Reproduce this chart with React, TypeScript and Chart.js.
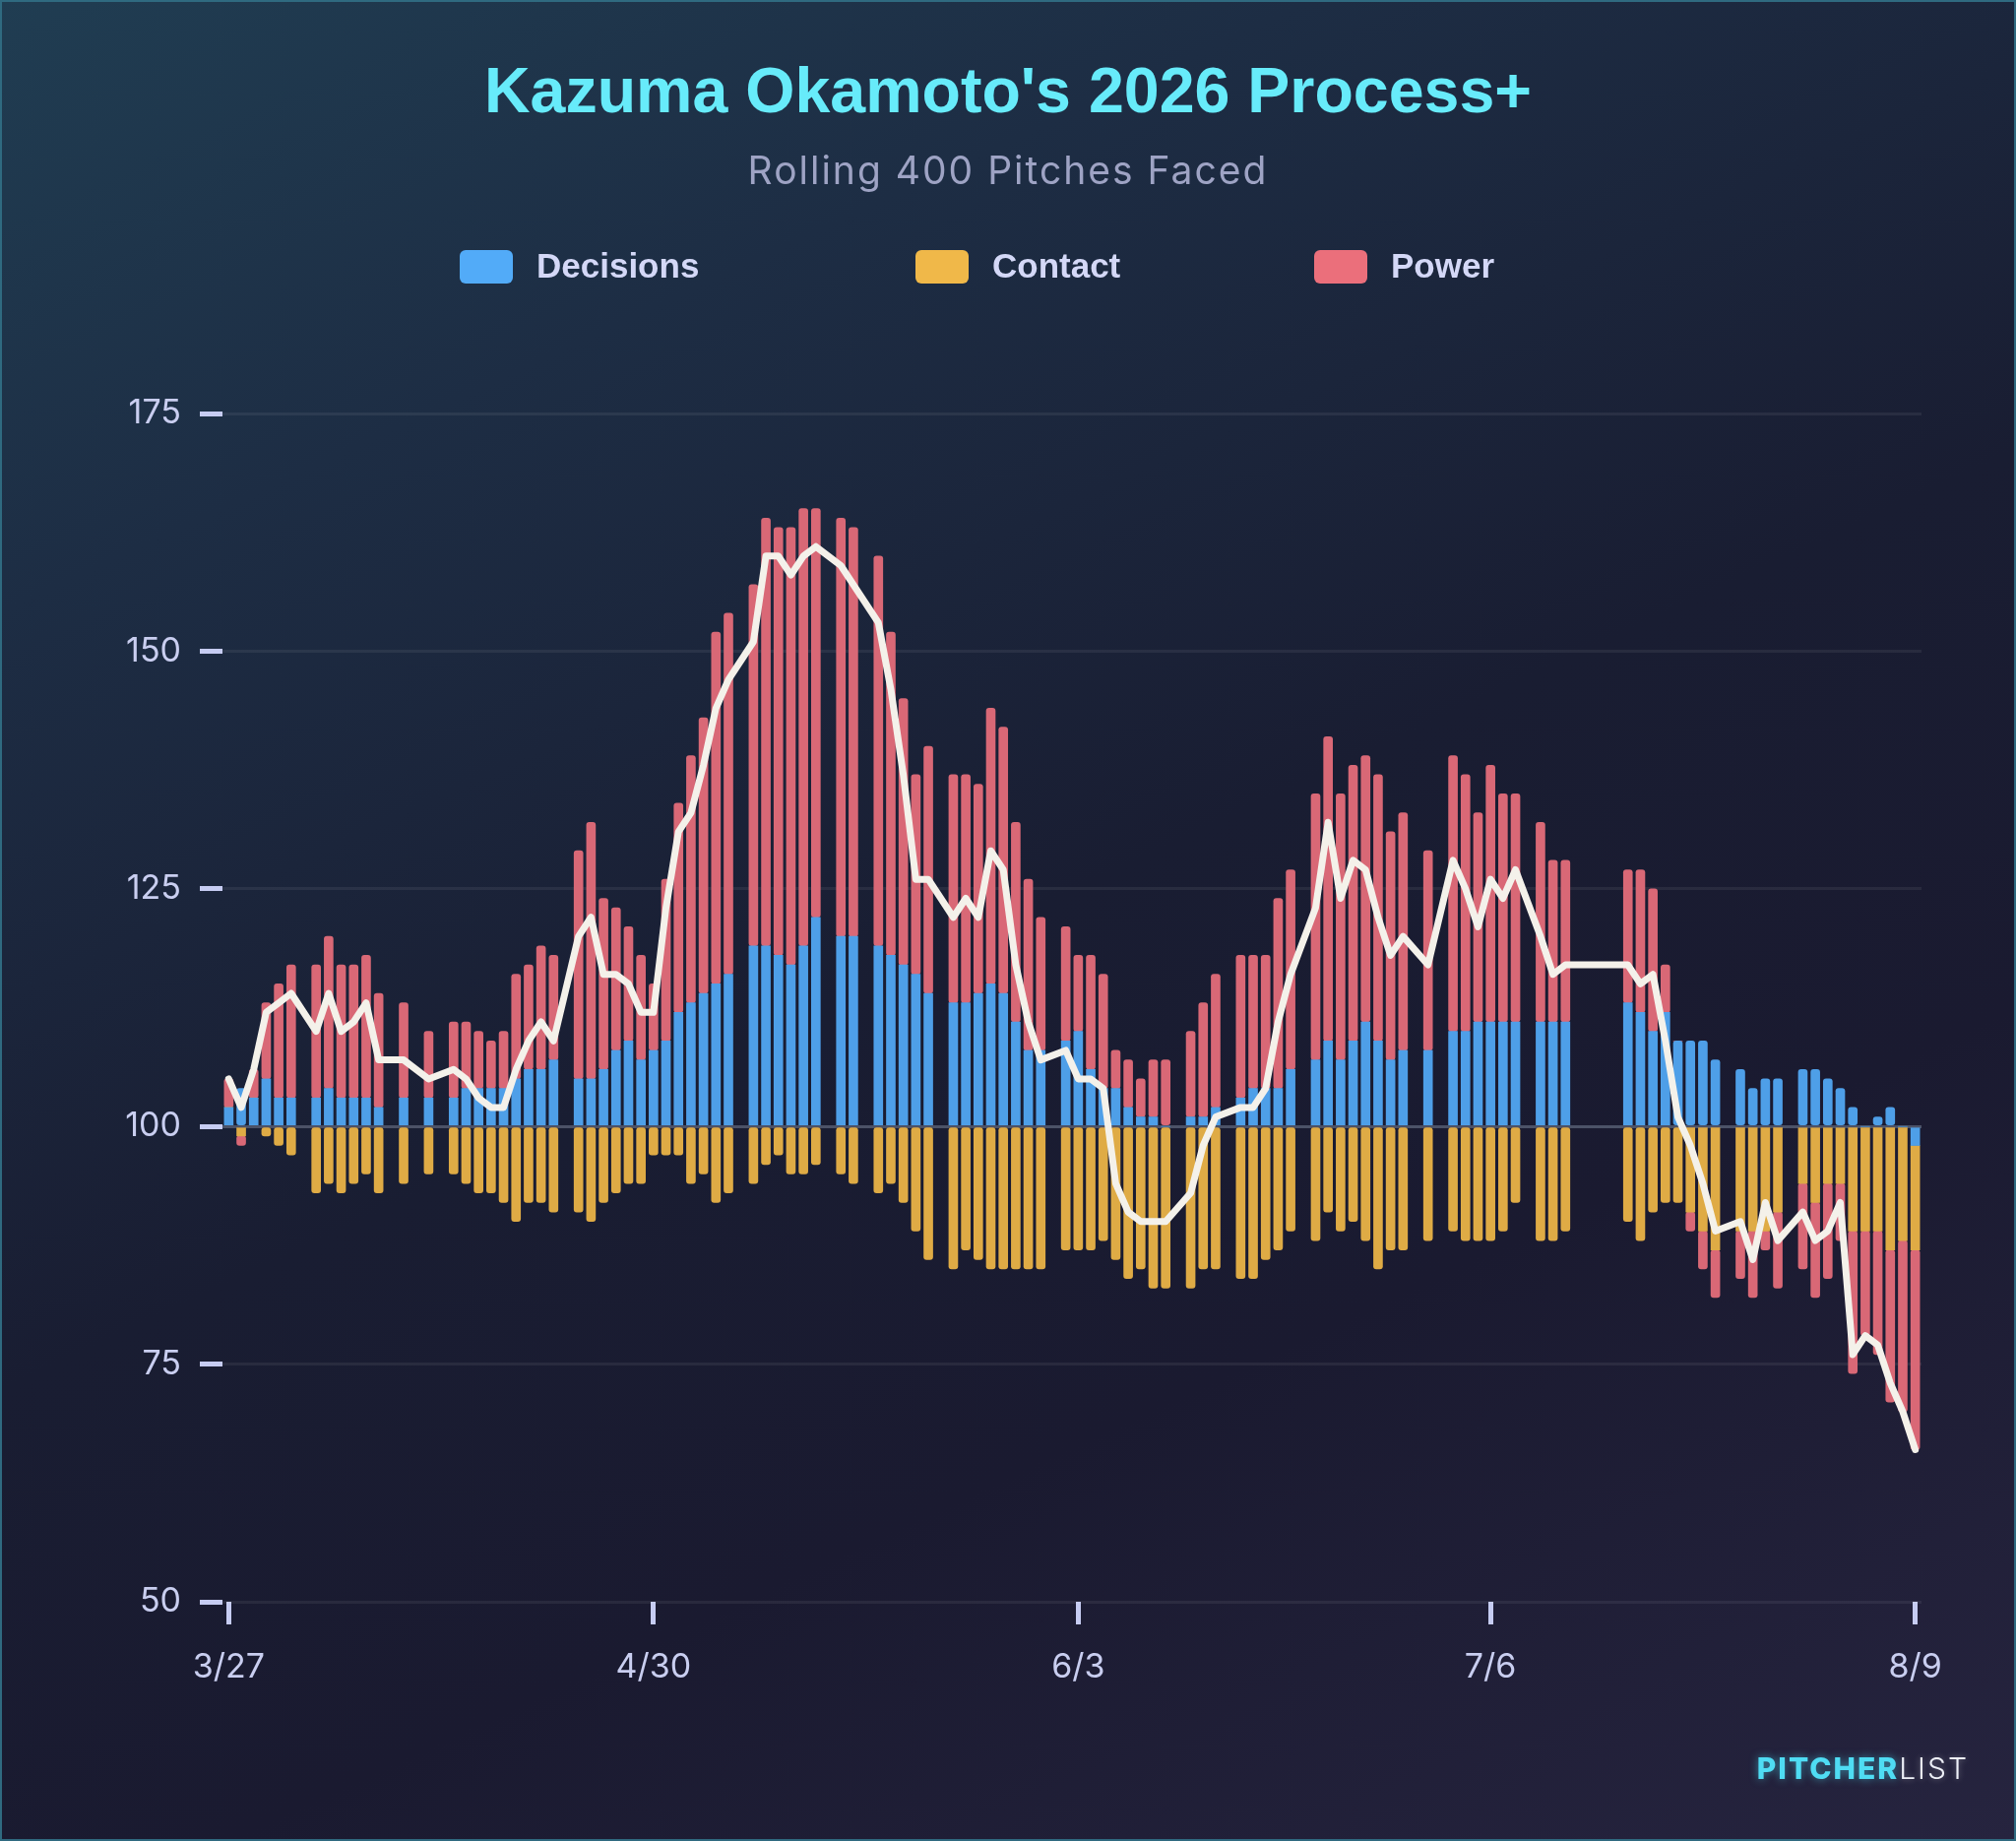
import React, { useEffect, useRef } from 'react';
import Chart from 'chart.js/auto';

// calendar span of the chart, one category per day (3/27 .. 8/9)
const monthSpans: [number, number, number][] = [
  [3, 27, 31], [4, 1, 30], [5, 1, 31], [6, 1, 30], [7, 1, 31], [8, 1, 9],
];
const dates: string[] = monthSpans.flatMap(([m, from, to]) =>
  Array.from({ length: to - from + 1 }, (_, i) => `${m}/${from + i}`)
);
const xTickLabels = ['3/27', '4/30', '6/3', '7/6', '8/9'];
const baseline = 100;

// null = no game that day
const decisionsPlus = [
  102, 104, 103, 105, 103, 103, null, 103, 104, 103,
  103, 103, 102, null, 103, null, 103, null, 103, 104,
  104, 104, 104, 105, 106, 106, 107, null, 105, 105,
  106, 108, 109, 107, 108, 109, 112, 113, 114, 115,
  116, null, 119, 119, 118, 117, 119, 122, null, 120,
  120, null, 119, 118, 117, 116, 114, null, 113, 113,
  114, 115, 114, 111, 108, 108, null, 109, 110, 106,
  104, 104, 102, 101, 101, 100, null, 101, 101, 102,
  null, 103, 104, 104, 104, 106, null, 107, 109, 107,
  109, 111, 109, 107, 108, null, 108, null, 110, 110,
  111, 111, 111, 111, null, 111, 111, 111, null, null,
  null, null, 113, 112, 110, 112, 109, 109, 109, 107,
  null, 106, 104, 105, 105, null, 106, 106, 105, 104,
  102, 100, 101, 102, 100, 98,
];

const contactPlus = [
  100, 99, 100, 99, 98, 97, null, 93, 94, 93,
  94, 95, 93, null, 94, null, 95, null, 95, 94,
  93, 93, 92, 90, 92, 92, 91, null, 91, 90,
  92, 93, 94, 94, 97, 97, 97, 94, 95, 92,
  93, null, 94, 96, 97, 95, 95, 96, null, 95,
  94, null, 93, 94, 92, 89, 86, null, 85, 87,
  86, 85, 85, 85, 85, 85, null, 87, 87, 87,
  88, 86, 84, 85, 83, 83, null, 83, 85, 85,
  null, 84, 84, 86, 87, 89, null, 88, 91, 89,
  90, 88, 85, 87, 87, null, 88, null, 89, 88,
  88, 88, 89, 92, null, 88, 88, 89, null, null,
  null, null, 90, 88, 91, 92, 92, 91, 89, 87,
  null, 89, 89, 89, 91, null, 94, 92, 94, 94,
  89, 89, 89, 87, 88, 89,
];

const powerPlus = [
  103, 99, 103, 108, 112, 114, null, 114, 116, 114,
  114, 115, 112, null, 110, null, 107, null, 108, 107,
  106, 105, 106, 111, 111, 113, 111, null, 124, 127,
  118, 115, 112, 111, 107, 117, 122, 126, 129, 137,
  138, null, 138, 145, 145, 146, 146, 143, null, 144,
  143, null, 141, 134, 128, 121, 126, null, 124, 124,
  122, 129, 128, 121, 118, 114, null, 112, 108, 112,
  112, 104, 105, 104, 106, 107, null, 109, 112, 114,
  null, 115, 114, 114, 120, 121, null, 128, 132, 128,
  129, 128, 128, 124, 125, null, 121, null, 129, 127,
  122, 127, 124, 124, null, 121, 117, 117, null, null,
  null, null, 114, 115, 115, 105, 100, 98, 96, 95,
  null, 95, 93, 98, 92, null, 91, 90, 90, 94,
  85, 89, 87, 84, 82, 79,
];

const processPlus = [
  105, 102, 106, 112, 113, 114, null, 110, 114, 110,
  111, 113, 107, null, 107, null, 105, null, 106, 105,
  103, 102, 102, 106, 109, 111, 109, null, 120, 122,
  116, 116, 115, 112, 112, 123, 131, 133, 138, 144,
  147, null, 151, 160, 160, 158, 160, 161, null, 159,
  157, null, 153, 146, 137, 126, 126, null, 122, 124,
  122, 129, 127, 117, 111, 107, null, 108, 105, 105,
  104, 94, 91, 90, 90, 90, null, 93, 98, 101,
  null, 102, 102, 104, 111, 116, null, 123, 132, 124,
  128, 127, 122, 118, 120, null, 117, null, 128, 125,
  121, 126, 124, 127, null, 120, 116, 117, null, null,
  null, null, 117, 115, 116, 109, 101, 98, 94, 89,
  null, 90, 86, 92, 88, null, 91, 88, 89, 92,
  76, 78, 77, 73, 70, 66,
];

const legendItems = [
  { label: 'Decisions', color: '#52abf8', left: 467 },
  { label: 'Contact', color: '#f0b849', left: 930 },
  { label: 'Power', color: '#eb6f7b', left: 1335 },
];

const toDelta = (arr: (number | null)[]) => arr.map((v) => (v === null ? null : v - baseline));

const tickColor = '#c6ccf2';
const labelColor = '#c9cef0';

export default function App() {
  const chartRef = useRef<HTMLCanvasElement | null>(null);
  const chartInstanceRef = useRef<Chart | null>(null);

  useEffect(() => {
    document.body.style.margin = '0';
    if (chartInstanceRef.current) {
      chartInstanceRef.current.destroy();
    }
    const ctx = chartRef.current?.getContext('2d');
    if (!ctx) return;

    const barCommon = {
      type: 'bar' as const,
      barThickness: 9,
      borderRadius: 3,
      borderSkipped: false,
      stack: 'components',
      order: 1,
    };

    chartInstanceRef.current = new Chart(ctx, {
      type: 'bar',
      data: {
        labels: dates,
        datasets: [
          { ...barCommon, label: 'Decisions', data: toDelta(decisionsPlus), backgroundColor: '#4e9fe8' },
          { ...barCommon, label: 'Contact', data: toDelta(contactPlus), backgroundColor: '#dfab45' },
          { ...barCommon, label: 'Power', data: toDelta(powerPlus), backgroundColor: '#d96876' },
          {
            type: 'line',
            label: 'Process+',
            data: toDelta(processPlus),
            borderColor: '#f4f1ea',
            borderWidth: 7,
            pointRadius: 0,
            tension: 0,
            spanGaps: true,
            borderJoinStyle: 'round',
            borderCapStyle: 'round',
            stack: 'total',
            order: 0,
          } as any,
        ],
      },
      options: {
        animation: false,
        responsive: false,
        devicePixelRatio: 1,
        layout: { padding: { top: 420, right: 96, bottom: 143, left: 0 } },
        plugins: {
          legend: { display: false },
          title: { display: false },
          tooltip: { enabled: false },
        },
        scales: {
          x: {
            stacked: true,
            offset: true,
            border: { display: false },
            grid: {
              display: true,
              drawOnChartArea: false,
              drawTicks: true,
              offset: false,
              tickLength: 23,
              tickWidth: 5,
              tickColor: (c: any) => (xTickLabels.includes(dates[c.index]) ? tickColor : 'rgba(0,0,0,0)'),
            },
            ticks: {
              autoSkip: false,
              maxRotation: 0,
              minRotation: 0,
              padding: 23,
              color: labelColor,
              font: { family: 'Inter', size: 34 },
              callback: (_v: any, i: number) => (xTickLabels.includes(dates[i]) ? dates[i] : ''),
            },
            afterFit: (s: any) => {
              s.height = 100;
            },
          },
          y: {
            stacked: true,
            min: -50,
            max: 75,
            border: { display: false },
            grid: {
              color: (c: any) => (c.tick && c.tick.value === 0 ? '#4c5267' : 'rgba(255,255,255,0.065)'),
              lineWidth: 3,
              tickLength: 23,
              tickWidth: 5,
              tickColor: tickColor,
            },
            ticks: {
              stepSize: 25,
              padding: 19,
              color: labelColor,
              font: { family: 'Inter', size: 34 },
              callback: (v: any) => `${Number(v) + baseline}`,
            },
            afterFit: (s: any) => {
              s.width = 226;
            },
          },
        },
      },
    });

    return () => {
      if (chartInstanceRef.current) {
        chartInstanceRef.current.destroy();
        chartInstanceRef.current = null;
      }
    };
  }, []);

  return (
    <div
      style={{
        position: 'absolute',
        left: 0,
        top: 0,
        width: 2048,
        height: 1870,
        overflow: 'hidden',
        background:
          'linear-gradient(155deg, #203d52 0%, #1d2d44 22%, #191d32 50%, #1a1a30 70%, #26243f 100%)',
      }}
    >
      <canvas ref={chartRef} width={2048} height={1870} style={{ position: 'absolute', left: 0, top: 0 }} />

      <div
        style={{
          position: 'absolute',
          left: 0,
          top: 60,
          width: 2048,
          textAlign: 'center',
          fontFamily: '"Liberation Sans", Arial, sans-serif',
          fontWeight: 700,
          fontSize: 64.5,
          lineHeight: 1,
          color: '#67ebfa',
          whiteSpace: 'nowrap',
        }}
      >
        Kazuma Okamoto's 2026 Process+
      </div>
      <div
        style={{
          position: 'absolute',
          left: 0,
          top: 153,
          width: 2048,
          textAlign: 'center',
          fontFamily: 'Inter, sans-serif',
          fontSize: 39,
          lineHeight: 1,
          letterSpacing: 2,
          color: '#9ea3c4',
          whiteSpace: 'nowrap',
        }}
      >
        Rolling 400 Pitches Faced
      </div>

      {legendItems.map((item) => (
        <div key={item.label} style={{ position: 'absolute', left: item.left, top: 252, height: 40 }}>
          <div
            style={{
              position: 'absolute',
              left: 0,
              top: 2,
              width: 54,
              height: 34,
              borderRadius: 6,
              background: item.color,
            }}
          />
          <div
            style={{
              position: 'absolute',
              left: 78,
              top: 0,
              fontFamily: '"Liberation Sans", Arial, sans-serif',
              fontWeight: 700,
              fontSize: 35,
              lineHeight: 1,
              color: '#d4d8f7',
              whiteSpace: 'nowrap',
            }}
          >
            {item.label}
          </div>
        </div>
      ))}

      <div
        style={{
          position: 'absolute',
          right: 48,
          top: 1781,
          fontFamily: 'Inter, sans-serif',
          fontSize: 30,
          lineHeight: 1,
          letterSpacing: 2,
          whiteSpace: 'nowrap',
        }}
      >
        <span style={{ fontWeight: 800, color: '#4fdcf3', textShadow: '0 0 8px rgba(79,220,243,0.55)' }}>PITCHER</span>
        <span style={{ fontWeight: 300, color: '#eef0f8', textShadow: '0 0 6px rgba(255,255,255,0.35)' }}>LIST</span>
      </div>

      <div
        style={{
          position: 'absolute',
          inset: 0,
          border: '2px solid #2f6a80',
          pointerEvents: 'none',
        }}
      />
    </div>
  );
}
